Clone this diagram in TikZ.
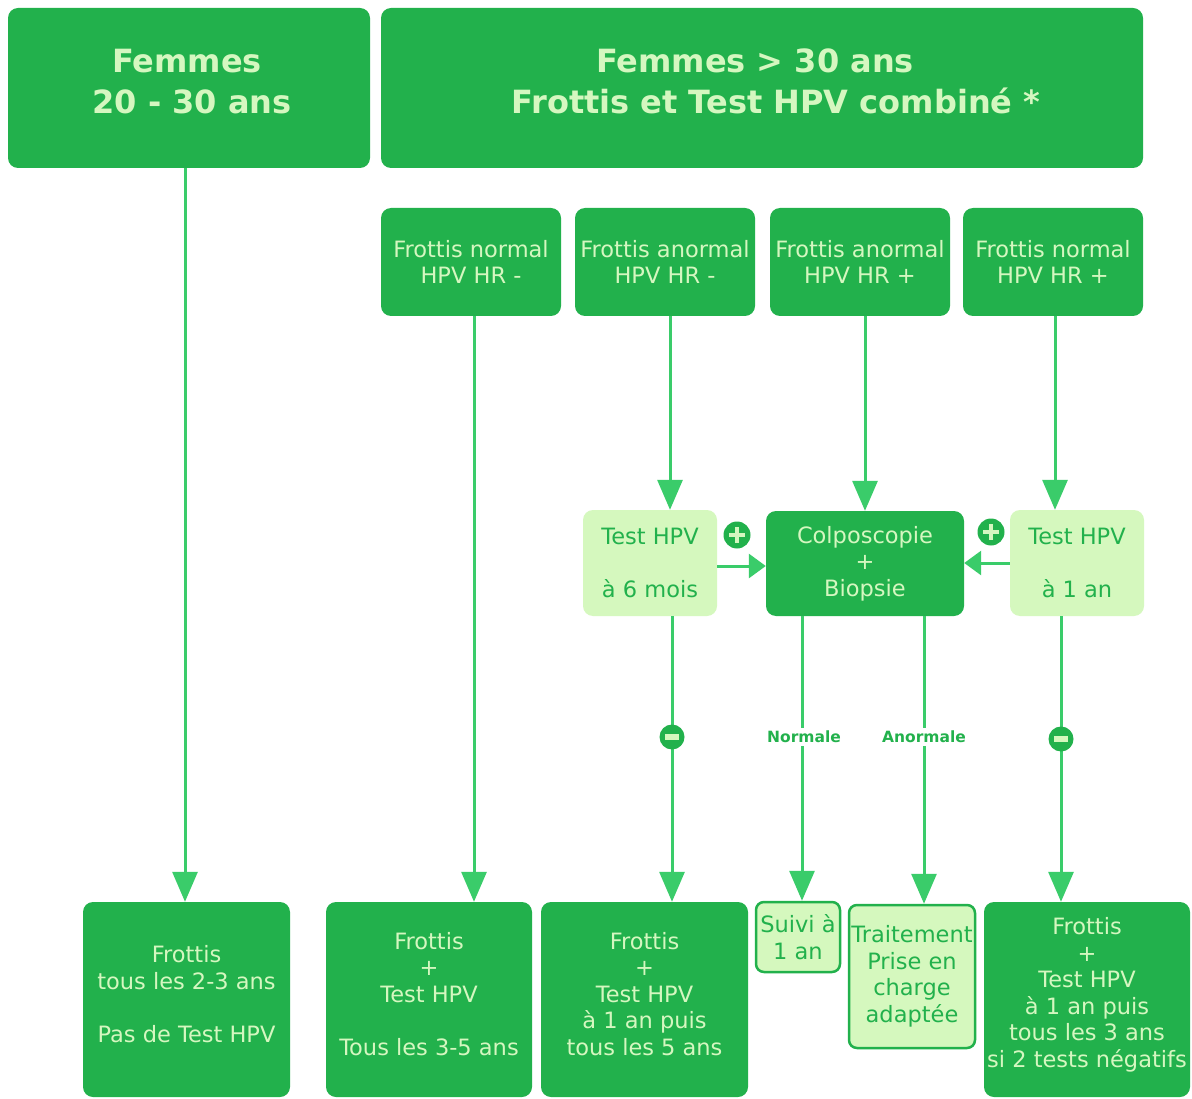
\documentclass[tikz,border=0pt]{standalone}
\usepackage{fontspec}
\setmainfont{DejaVu Sans}
\usetikzlibrary{arrows.meta}
\definecolor{dkg}{HTML}{22B14C}
\definecolor{ltg}{HTML}{D5F8BE}
\definecolor{txl}{HTML}{D5F7C0}
\definecolor{arg}{HTML}{3ACC6A}
\begin{document}
\begin{tikzpicture}[x=1pt,y=-1pt,
  dbox/.style={fill=dkg, rounded corners=10pt, text=txl, align=center, inner sep=0pt,
    font=\fontsize{22.5}{26.5}\selectfont},
  txt/.style={text=txl, align=center, inner sep=0pt, font=\fontsize{22.5}{26.5}\selectfont},
  htxt/.style={txt, font=\bfseries\fontsize{32}{41}\selectfont},
  lbox/.style={fill=ltg, rounded corners=10pt, text=dkg, align=center, inner sep=0pt,
    font=\fontsize{22.5}{26.5}\selectfont},
  obox/.style={lbox, draw=dkg, line width=2.5pt, rounded corners=8pt},
  arr/.style={draw=arg, line width=3pt, -{Triangle[width=25pt,length=30pt]}},
  harr/.style={draw=arg, line width=3pt, -{Triangle[width=24pt,length=17pt]}},
  lab/.style={fill=white, text=dkg, inner sep=3pt, font=\bfseries\fontsize{15.5}{18}\selectfont},
  pluscirc/.style={circle, fill=dkg, minimum size=27pt, inner sep=0pt,
    path picture={\draw[txl,line width=4pt]
      ([xshift=-8pt]path picture bounding box.center) -- ([xshift=8pt]path picture bounding box.center)
      ([yshift=-8pt]path picture bounding box.center) -- ([yshift=8pt]path picture bounding box.center);}},
  minuscirc/.style={circle, fill=dkg, minimum size=25pt, inner sep=0pt,
    path picture={\fill[ltg]
      ([xshift=-7pt,yshift=-3pt]path picture bounding box.center) rectangle
      ([xshift=7pt,yshift=3pt]path picture bounding box.center);}}
]
\useasboundingbox (0,0) rectangle (1192,1099);
\clip (0,0) rectangle (1192,1099);
\fill[white] (0,0) rectangle (1192,1099);

% headers
\node[dbox, minimum width=362pt, minimum height=160pt] (h1) at (189,88) {};
\node[htxt] (h1t) at (192,82) {Femmes\hspace*{10pt}\\20 - 30 ans};
\node[dbox, minimum width=762pt, minimum height=160pt] (h2) at (762,88) {};
\node[htxt] (h2t) at (776,81) {Femmes > 30 ans\hspace*{42pt}\\Frottis et Test HPV combiné *};

% row 2
\node[dbox, minimum width=180pt, minimum height=108pt] (r2a) at (471,262) {Frottis normal\\HPV HR -};
\node[dbox, minimum width=180pt, minimum height=108pt] (r2b) at (665,262) {Frottis anormal\\HPV HR -};
\node[dbox, minimum width=180pt, minimum height=108pt] (r2c) at (860,262) {Frottis anormal\\HPV HR +};
\node[dbox, minimum width=180pt, minimum height=108pt] (r2d) at (1053,262) {Frottis normal\\HPV HR +};

% row 3
\node[lbox, minimum width=134pt, minimum height=106pt] (t6) at (650,563) {Test HPV\\~\\à 6 mois};
\node[dbox, minimum width=198pt, minimum height=105pt] (co) at (865,563.5) {Colposcopie\\+\\Biopsie};
\node[lbox, minimum width=134pt, minimum height=106pt] (t1) at (1077,563) {Test HPV\\~\\à 1 an};

% bottom row
\node[dbox, minimum width=207pt, minimum height=195pt] (b1) at (186.5,999.5) {};
\node[txt] (b1t) at (186.5,994) {Frottis\\tous les 2-3 ans\\~\\Pas de Test HPV};
\node[dbox, minimum width=206pt, minimum height=195pt] (b2) at (429,999.5) {};
\node[txt] (b2t) at (429,994) {Frottis\\+\\Test HPV\\~\\Tous les 3-5 ans};
\node[dbox, minimum width=207pt, minimum height=195pt] (b3) at (644.5,999.5) {};
\node[txt] (b3t) at (644.5,994) {Frottis\\+\\Test HPV\\à 1 an puis\\tous les 5 ans};
\node[obox, minimum width=84pt, minimum height=70pt] (su) at (798,937) {Suivi à\\1 an};
\node[obox, minimum width=126pt, minimum height=143pt] (tr) at (912,976.5) {Traitement\\Prise en\\charge\\adaptée};
\node[dbox, minimum width=206pt, minimum height=195pt] (b6) at (1087,999.5) {};
\node[txt] (b6t) at (1087,995) {Frottis\\+\\Test HPV\\à 1 an puis\\tous les 3 ans\\si 2 tests négatifs};

% arrows
\draw[arr] (h1.south -| 185,0) -- (b1.north -| 185,0);
\draw[arr] (r2a.south -| 474,0) -- (b2.north -| 474,0);
\draw[arr] (r2b.south -| 670,0) -- (t6.north -| 670,0);
\draw[arr] (r2c.south -| 865,0) -- (co.north -| 865,0);
\draw[arr] (r2d.south -| 1055,0) -- (t1.north -| 1055,0);
\draw[harr] (t6.east |- 0,566) -- (co.west |- 0,566);
\draw[harr] (t1.west |- 0,563) -- (co.east |- 0,563);
\draw[arr] (t6.south -| 672,0) -- (b3.north -| 672,0);
\draw[arr] (co.south -| 802,0) -- (su.north -| 802,0);
\draw[arr] (co.south -| 924,0) -- (tr.north -| 924,0);
\draw[arr] (t1.south -| 1061,0) -- (b6.north -| 1061,0);

% labels and signs
\node[lab] (ln) at (804,737) {Normale};
\node[lab] (la) at (924,737) {Anormale};
\node[pluscirc] (p1) at (737,535) {};
\node[pluscirc] (p2) at (991,532) {};
\node[minuscirc] (m1) at (672,737) {};
\node[minuscirc] (m2) at (1061,739) {};
\end{tikzpicture}
\end{document}
